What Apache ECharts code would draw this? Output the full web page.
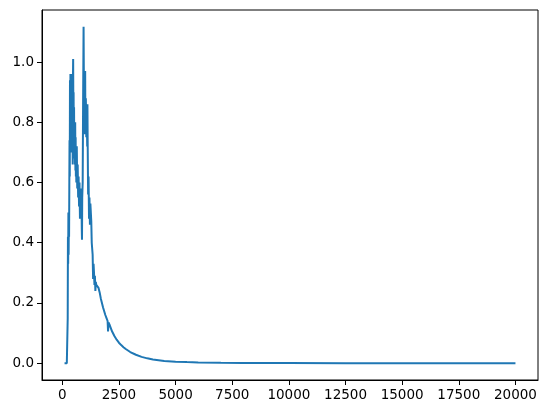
<!DOCTYPE html>
<html>
<head>
<meta charset="utf-8">
<script src="https://cdn.jsdelivr.net/npm/echarts@6/dist/echarts.min.js"></script>
<style>html,body{margin:0;padding:0;background:#fff}#c{width:548px;height:413px}</style>
</head>
<body>
<div id="c"></div>
<script>
const xValues = [100,150,200,230,240,250,260,270,280,290,300,310,320,330,340,350,360,370,380,390,400,410,420,430,440,450,460,470,480,490,500,510,520,530,540,550,560,570,580,590,600,610,620,640,660,680,700,720,740,760,780,800,820,840,860,870,880,900,920,940,950,960,970,980,990,1000,1010,1020,1040,1060,1080,1100,1110,1120,1140,1160,1180,1200,1220,1240,1260,1280,1300,1320,1340,1360,1380,1400,1420,1440,1460,1480,1500,1550,1600,1650,1700,1800,1900,1960,2000,2020,2040,2100,2200,2300,2400,2500,2600,2700,2800,3000,3250,3500,3750,4000,4500,5000,5500,6000,7000,8000,9000,10000,12500,15000,17500,20000];
const yValues = [0,0,0,0.003,0.15,0.42,0.33,0.50,0.36,0.48,0.42,0.58,0.74,0.62,0.94,0.70,0.96,0.80,0.93,0.72,0.96,0.85,0.90,0.70,0.80,0.88,0.66,0.94,1.01,0.82,0.90,0.70,0.85,0.68,0.78,0.72,0.66,0.80,0.64,0.75,0.62,0.70,0.60,0.72,0.58,0.66,0.55,0.62,0.52,0.60,0.48,0.56,0.50,0.58,0.45,0.41,0.55,0.60,0.88,1.117,0.98,0.80,0.95,0.76,0.92,0.82,0.97,0.78,0.88,0.75,0.84,0.72,0.86,0.74,0.56,0.62,0.48,0.55,0.46,0.53,0.50,0.47,0.40,0.38,0.36,0.28,0.33,0.30,0.26,0.29,0.24,0.27,0.26,0.265,0.25,0.235,0.215,0.185,0.16,0.148,0.14,0.105,0.135,0.125,0.105,0.09,0.078,0.068,0.06,0.053,0.047,0.037,0.028,0.021,0.016,0.012,0.0075,0.005,0.0035,0.0025,0.0014,0.0008,0.0005,0.0003,0.0001,0.00005,0.00003,0.00002];
const xTicks = [0,2500,5000,7500,10000,12500,15000,17500,20000];
const yTicks = [0,0.2,0.4,0.6,0.8,1.0];

const data = xValues.map((x,i)=>[x,yValues[i]]);
const font = 'DejaVu Sans';
const chart = echarts.init(document.getElementById('c'), null, {renderer:'canvas'});
chart.setOption({
  animation:false,
  grid:{left:42,top:10,width:496,height:370,show:true,borderColor:'#000',borderWidth:1,backgroundColor:'transparent'},
  xAxis:{type:'value',min:-895,max:20995,position:'bottom',
    axisLine:{show:true,onZero:false,lineStyle:{color:'#000',width:1}},
    splitLine:{show:false},
    axisTick:{show:true,inside:false,length:5,lineStyle:{color:'#000',width:1},customValues:xTicks},
    axisLabel:{show:true,margin:8,color:'#000',fontFamily:font,fontSize:13.5,customValues:xTicks,formatter:v=>String(v)}
  },
  yAxis:{type:'value',min:-0.0559,max:1.1729,position:'left',
    axisLine:{show:true,onZero:false,lineStyle:{color:'#000',width:1}},
    splitLine:{show:false},
    axisTick:{show:true,inside:false,length:5,lineStyle:{color:'#000',width:1},customValues:yTicks},
    axisLabel:{show:true,margin:8,color:'#000',fontFamily:font,fontSize:13.5,customValues:yTicks,formatter:v=>Number(v).toFixed(1)}
  },
  series:[{type:'line',data:data,showSymbol:false,symbol:'none',lineStyle:{color:'#1f77b4',width:2},itemStyle:{color:'#1f77b4'}}]
});
</script>
</body>
</html>
